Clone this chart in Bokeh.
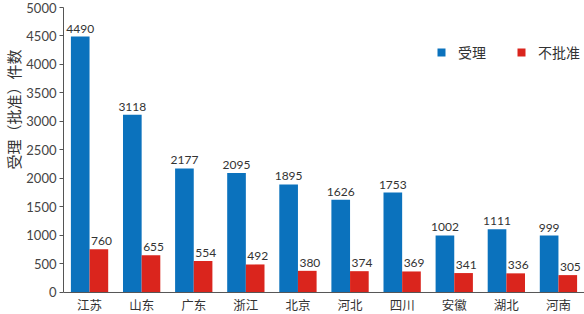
from bokeh.plotting import figure
from bokeh.models import FactorRange, Range1d, ColumnDataSource, Title, FixedTicker, Span
from bokeh.transform import dodge
from bokeh.core.properties import value
from bokeh.embed import file_html
from bokeh.resources import INLINE

provinces = ["江苏", "山东", "广东", "浙江", "北京", "河北", "四川", "安徽", "湖北", "河南"]
accepted = [4490, 3118, 2177, 2095, 1895, 1626, 1753, 1002, 1111, 999]
rejected = [760, 655, 554, 492, 380, 374, 369, 341, 336, 305]
series_names = ["受理", "不批准"]
y_ticks = [0, 500, 1000, 1500, 2000, 2500, 3000, 3500, 4000, 4500, 5000]
y_label = "受理（批准）件数"

BLUE = "#0b72bd"
RED = "#da251d"
AXIS = "#555555"
CJK = "Noto Sans CJK SC"
NUM = "Lato"

src = ColumnDataSource(dict(
    prov=provinces,
    zero=[0] * len(provinces),
    acc=accepted,
    rej=rejected,
    acc_t=[str(v) for v in accepted],
    rej_t=[str(v) for v in rejected],
))

# frame runs to the bottom edge; the area below 0 holds the category names
p = figure(width=584, height=314,
           x_range=FactorRange(*provinces),
           y_range=Range1d(-386, 5000),
           output_backend="svg", toolbar_location=None,
           min_border_left=63, min_border_right=0,
           min_border_top=7, min_border_bottom=0)

p.outline_line_color = None
p.xgrid.grid_line_color = None
p.ygrid.grid_line_color = None
p.xaxis.visible = False

p.vbar(x=dodge("prov", -0.179, range=p.x_range), top="acc", bottom=0, width=0.358,
       source=src, fill_color=BLUE, line_color=None, legend_label=series_names[0])
p.vbar(x=dodge("prov", 0.179, range=p.x_range), top="rej", bottom=0, width=0.358,
       source=src, fill_color=RED, line_color=None, legend_label=series_names[1])

p.text(x=dodge("prov", -0.179, range=p.x_range), y="acc", text="acc_t", source=src,
       text_align="center", text_baseline="bottom", y_offset=-4,
       text_font=value(NUM), text_font_size="12px", text_color="#333333")
p.text(x=dodge("prov", 0.229, range=p.x_range), y="rej", text="rej_t", source=src,
       text_align="center", text_baseline="bottom", y_offset=-4,
       text_font=value(NUM), text_font_size="12px", text_color="#333333")

# category names under the baseline
p.text(x="prov", y="zero", text="prov", source=src,
       text_align="center", text_baseline="middle", y_offset=12.5,
       text_font=value(CJK), text_font_size="12.5px", text_color="#333333")

# baseline (x axis line)
p.add_layout(Span(location=0, dimension="width", line_color=AXIS, line_width=1))

# y axis
yax = p.yaxis[0]
yax.ticker = FixedTicker(ticks=y_ticks)
yax.bounds = (0, 5000)
yax.minor_tick_line_color = None
yax.major_tick_in = 0
yax.major_tick_out = 4
yax.major_label_standoff = 3
yax.major_label_text_font = NUM
yax.major_label_text_font_size = "13px"
yax.major_label_text_color = "#444444"
yax.axis_line_color = AXIS
yax.major_tick_line_color = AXIS

p.add_layout(Title(text=y_label, align="right", offset=42, standoff=0,
                   text_font=CJK, text_font_size="15px",
                   text_font_style="normal", text_color="#333333"), "left")

lg = p.legend[0]
lg.location = (373, 252)
lg.orientation = "horizontal"
lg.glyph_width = 10
lg.glyph_height = 10
lg.label_standoff = 12
lg.spacing = 30
lg.padding = 0
lg.margin = 0
lg.border_line_color = None
lg.background_fill_alpha = 0
lg.label_text_font = CJK
lg.label_text_font_size = "14px"
lg.label_text_color = "#333333"

open("out.html", "w").write(file_html(p, INLINE))
